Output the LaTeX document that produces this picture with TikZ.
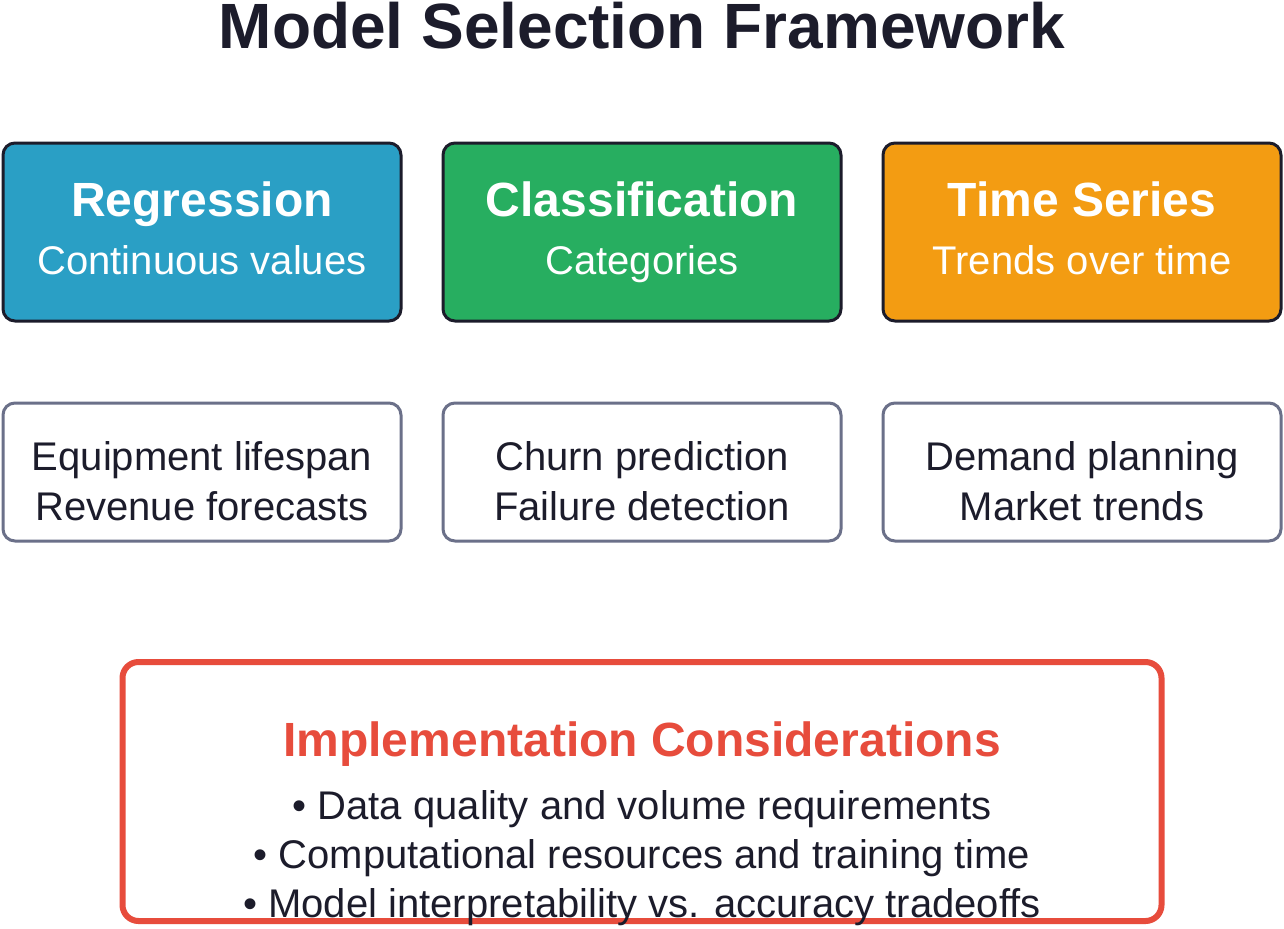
\documentclass[tikz,border=0pt]{standalone}
\usepackage{fontspec}
\setmainfont{Liberation Sans}
\definecolor{ink}{HTML}{1C1C2B}
\definecolor{regblue}{HTML}{2A9FC5}
\definecolor{clsgreen}{HTML}{27AE60}
\definecolor{tsorange}{HTML}{F39C12}
\definecolor{impred}{HTML}{E74C3C}
\definecolor{usegray}{HTML}{6B7089}
\tikzset{
  px/.style={x=0.75pt,y=-0.75pt},
  catbox/.style={draw=ink, line width=2.25pt, rounded corners=9pt, minimum width=298.5pt, minimum height=133.5pt, inner sep=0pt},
  usebox/.style={draw=usegray, line width=2.25pt, rounded corners=9pt, fill=white, minimum width=298.5pt, minimum height=103.5pt, inner sep=0pt},
  headtxt/.style={anchor=base, inner sep=0pt, text=white, font=\fontsize{36}{43}\selectfont\bfseries},
  subtxt/.style={anchor=base, inner sep=0pt, text=white, font=\fontsize{30}{36}\selectfont},
  bodytxt/.style={anchor=base, inner sep=0pt, text=ink, font=\fontsize{30}{36}\selectfont},
}
\begin{document}
\begin{tikzpicture}[px]
\useasboundingbox (0,0) rectangle (1284,928);
\fill[white] (0,0) rectangle (1284,928);
% title
\node[anchor=base, inner sep=0pt, text=ink, font=\fontsize{48}{58}\selectfont\bfseries] (title) at (642,48) {Model Selection Framework};
% category boxes
\node[catbox, fill=regblue] (reg) at (202,232) {};
\node[catbox, fill=clsgreen] (cls) at (642,232) {};
\node[catbox, fill=tsorange] (ts) at (1082,232) {};
\node[headtxt] (regh) at (202,216) {Regression};
\node[subtxt] (regs) at (202,274) {Continuous values};
\node[headtxt] (clsh) at (642,216) {Classification};
\node[subtxt] (clss) at (642,274) {Categories};
\node[headtxt] (tsh) at (1082,216) {Time Series};
\node[subtxt] (tss) at (1082,274) {Trends over time};
% use-case boxes
\node[usebox] (regu) at (202,472) {};
\node[usebox] (clsu) at (642,472) {};
\node[usebox] (tsu) at (1082,472) {};
\node[bodytxt] (regu1) at (202,470) {Equipment lifespan};
\node[bodytxt] (regu2) at (202,520) {Revenue forecasts};
\node[bodytxt] (clsu1) at (642,470) {Churn prediction};
\node[bodytxt] (clsu2) at (642,520) {Failure detection};
\node[bodytxt] (tsu1) at (1082,470) {Demand planning};
\node[bodytxt] (tsu2) at (1082,520) {Market trends};
% implementation box
\node[draw=impred, fill=white, line width=4.5pt, rounded corners=12pt, minimum width=779.25pt, minimum height=194.25pt, inner sep=0pt] (imp) at (642,791.5) {};
\node[anchor=base, inner sep=0pt, text=impred, font=\fontsize{36}{43}\selectfont\bfseries] (imph) at (642,756) {Implementation Considerations};
\node[bodytxt] (imp1) at (642,819) {• Data quality and volume requirements};
\node[bodytxt] (imp2) at (642,868) {• Computational resources and training time};
\node[bodytxt] (imp3) at (642,917) {• Model interpretability vs. accuracy tradeoffs};
\end{tikzpicture}
\end{document}
